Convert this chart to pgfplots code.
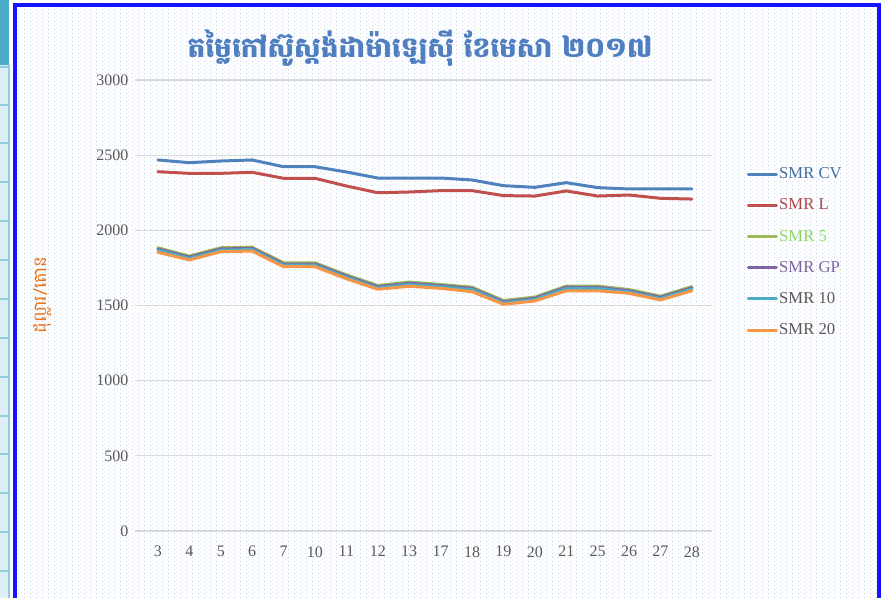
\documentclass[border=0pt]{standalone}
\usepackage{fontspec}
\setmainfont{Liberation Serif}
\newfontfamily\khmer[Script=Khmer]{Battambang}
\usepackage{pgfplots}
\pgfplotsset{compat=1.18}
\usepackage{pgfplotstable}
\usetikzlibrary{patterns}

\definecolor{smrcv}{HTML}{4F81BD}
\definecolor{smrl}{HTML}{C0504D}
\definecolor{smrfive}{HTML}{9BBB59}
\definecolor{smrgp}{HTML}{8064A2}
\definecolor{smrten}{HTML}{4BACC6}
\definecolor{smrtwenty}{HTML}{F79646}
\definecolor{txtgray}{HTML}{595959}
\definecolor{gridgray}{HTML}{D9D9D9}
\definecolor{dotblue}{HTML}{BCCFE8}
\definecolor{framblue}{HTML}{1414FF}
\definecolor{titleblue}{HTML}{4F7FC0}
\definecolor{ylabor}{HTML}{E8731E}
\definecolor{celllight}{HTML}{DDEEF4}
\definecolor{cellline}{HTML}{92CDDC}

\pgfdeclarepatternformonly{xldots}{\pgfpointorigin}{\pgfpoint{4.5pt}{3pt}}{\pgfpoint{4.5pt}{3pt}}{%
  \pgfpathrectangle{\pgfpointorigin}{\pgfpoint{0.75pt}{0.75pt}}%
  \pgfpathrectangle{\pgfpoint{2.25pt}{1.5pt}}{\pgfpoint{0.75pt}{0.75pt}}%
  \pgfusepath{fill}}

% day, SMR CV, SMR L, SMR 5, SMR GP, SMR 10, SMR 20
\pgfplotstableread{
i day cv   l    five gp   ten  twenty
0  3  2468 2390 1884 1876 1868 1854
1  4  2450 2379 1829 1821 1813 1803
2  5  2461 2379 1884 1876 1868 1858
3  6  2468 2386 1888 1880 1872 1862
4  7  2423 2346 1784 1776 1768 1758
5  10 2423 2346 1784 1776 1768 1758
6  11 2388 2295 1704 1696 1688 1678
7  12 2348 2250 1633 1625 1617 1608
8  13 2348 2255 1656 1648 1640 1628
9  17 2348 2264 1640 1632 1624 1614
10 18 2335 2264 1622 1614 1606 1592
11 19 2297 2231 1533 1525 1517 1508
12 20 2286 2228 1556 1548 1540 1530
13 21 2317 2262 1629 1621 1613 1598
14 25 2284 2228 1629 1621 1613 1598
15 26 2275 2235 1606 1598 1590 1581
16 27 2275 2213 1562 1554 1546 1537
17 28 2275 2208 1626 1618 1610 1598
}\smrdata

\begin{document}
\begin{tikzpicture}[x=0.75pt,y=0.75pt]
\path[use as bounding box] (0,0) rectangle (883,598);
\fill[white] (0,0) rectangle (883,598);
% spreadsheet strip on the left
\fill[celllight] (0,0) rectangle (8,533);
\fill[smrten] (0,533) rectangle (9,598);
\foreach \yy in {27,66,105,144,182,221,260,299,338,377,416,455,493,531}
  \draw[cellline, line width=1] (0,\yy) -- (8,\yy);
\draw[cellline, line width=1.5] (8.5,0) -- (8.5,533);
% chart area
\fill[white] (16,0) rectangle (878,592);
\fill[pattern=xldots, pattern color=dotblue] (17,0) rectangle (877,591);
\draw[framblue, line width=2.5] (15,0) -- (15,593) -- (879,593) -- (879,0);
% title and y label
\node[text=titleblue, font=\khmer\bfseries\fontsize{21}{24}\selectfont] at (420,550) {តម្លៃកៅស៊ូស្តង់ដាម៉ាឡេស៊ី ខែមេសា ២០១៧};
\node[text=ylabor, rotate=90, font=\khmer\fontsize{13.5}{16}\selectfont] at (42,303) {ដុល្លារ/តោន};
\begin{axis}[
  at={(135*0.75pt,67*0.75pt)}, anchor=south west,
  scale only axis,
  width=577*0.75pt, height=451*0.75pt,
  xmin=-0.73, xmax=17.64, ymin=0, ymax=3000,
  axis line style={draw=none},
  major tick length=0pt,
  ytick={0,500,...,3000},
  xtick={0,...,17},
  xticklabels={3,4,5,6,7,10,11,12,13,17,18,19,20,21,25,26,27,28},
  ymajorgrids, grid style={gridgray, line width=0.9pt},
  tick label style={font=\fontsize{12}{14}\selectfont, text=txtgray},
  /pgf/number format/assume math mode=true,
  /pgf/number format/1000 sep={},
  yticklabel style={xshift=-1.5pt},
  xticklabel style={yshift=-8pt},
  clip=false,
  legend style={at={(1.053,0.815)}, anchor=north west, draw=none, fill=none,
    font=\fontsize{12.5}{14}\selectfont, row sep=11.6pt,
    nodes={inner sep=1pt, anchor=west}},
  legend cell align=left,
  legend image code/.code={\draw[#1, line width=2.25pt] (0pt,0pt) -- (21pt,0pt);},
  every axis plot/.append style={line width=2.25pt, line join=round, line cap=round, mark=none},
]
\addplot[smrcv] table[x=i, y=cv] {\smrdata};
\addlegendentry{\textcolor{smrcv!85!black}{SMR CV}}
\addplot[smrl] table[x=i, y=l] {\smrdata};
\addlegendentry{\textcolor{smrl!90!black}{SMR L}}
\addplot[smrfive] table[x=i, y=five] {\smrdata};
\addlegendentry{\textcolor{smrfive!70!green!80!white}{SMR 5}}
\addplot[smrgp] table[x=i, y=gp] {\smrdata};
\addlegendentry{\textcolor{smrgp}{SMR GP}}
\addplot[smrten] table[x=i, y=ten] {\smrdata};
\addlegendentry{\textcolor{txtgray}{SMR 10}}
\addplot[smrtwenty] table[x=i, y=twenty] {\smrdata};
\addlegendentry{\textcolor{txtgray}{SMR 20}}
\end{axis}
\end{tikzpicture}
\end{document}
